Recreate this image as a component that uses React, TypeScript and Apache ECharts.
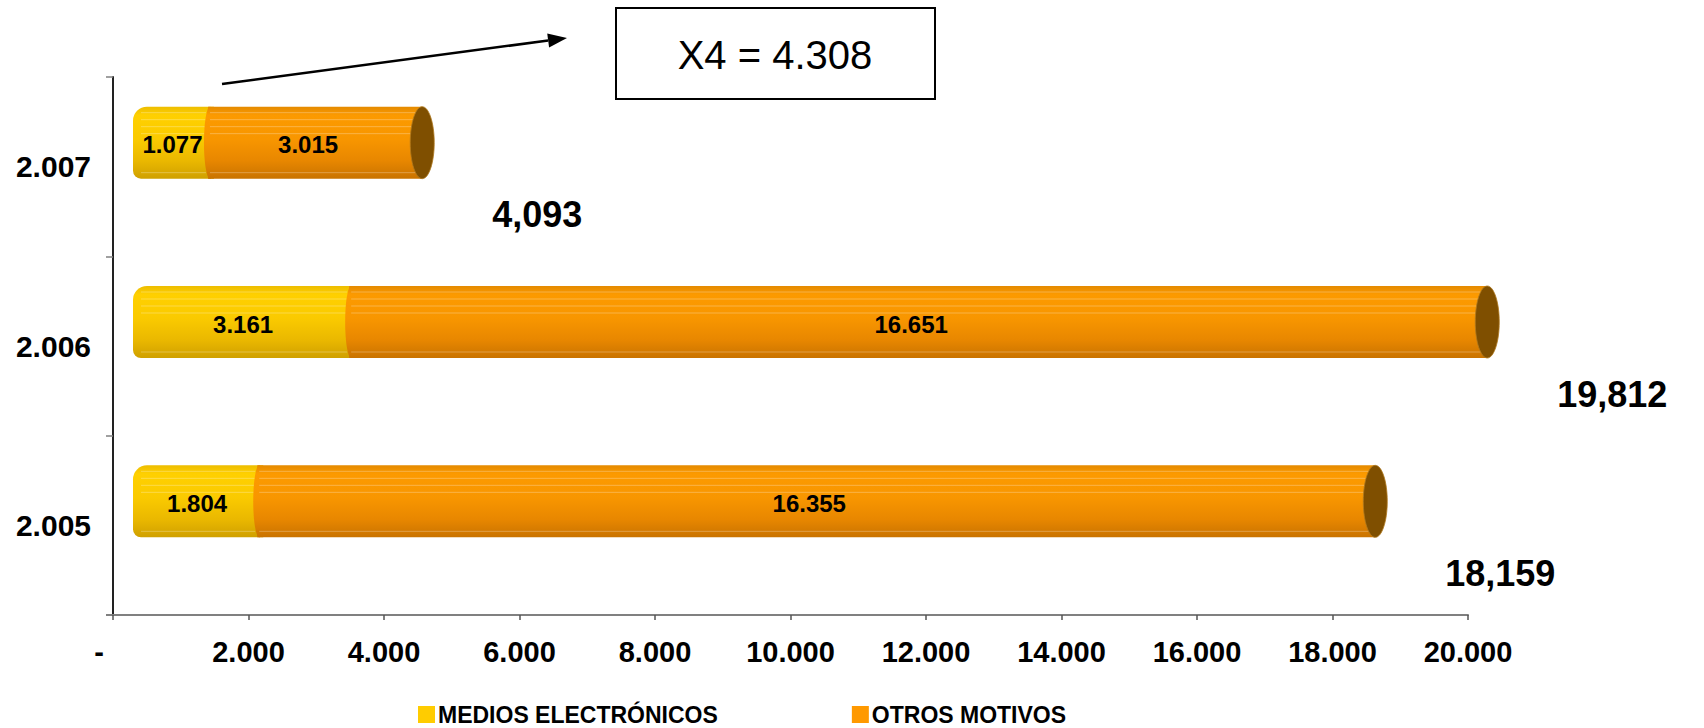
import React, { useEffect, useRef } from 'react';
import * as echarts from 'echarts';

const categories = ['2.005', '2.006', '2.007'];
const mediosElectronicos = [1804, 3161, 1077];
const otrosMotivos = [16355, 16651, 3015];
const totalLabels = ['18,159', '19,812', '4,093'];
const seriesNames = ['MEDIOS ELECTRÓNICOS', 'OTROS MOTIVOS'];
const xMin = 0;
const xMax = 20000;
const xInterval = 2000;
const annotationText = 'X4 = 4.308';

const FONT = '"Liberation Sans", Arial, sans-serif';
const DX = 20;
const DY = -24;
const BAR_H = 72;

function fmt(n: number): string {
  return String(Math.round(n)).replace(/\B(?=(\d{3})+(?!\d))/g, '.');
}

const yellowGrad = new echarts.graphic.LinearGradient(0, 0, 0, 1, [
  { offset: 0, color: '#EDBD00' },
  { offset: 0.12, color: '#FFD000' },
  { offset: 0.45, color: '#FACA00' },
  { offset: 0.75, color: '#EAB800' },
  { offset: 1, color: '#CFA000' },
]);
const orangeGrad = new echarts.graphic.LinearGradient(0, 0, 0, 1, [
  { offset: 0, color: '#E48A00' },
  { offset: 0.12, color: '#FC9A00' },
  { offset: 0.45, color: '#F89600' },
  { offset: 0.75, color: '#E88700' },
  { offset: 1, color: '#C97300' },
]);

function segmentRenderer(kind: number) {
  return (params: any, api: any) => {
    const cat = api.value(0);
    const start = api.value(1);
    const end = api.value(2);
    const val = api.value(3);
    const p0 = api.coord([start, cat]);
    const p1 = api.coord([end, cat]);
    const x0 = p0[0] + DX;
    const x1 = p1[0] + DX;
    const cy = p0[1] + DY;
    const y = cy - BAR_H / 2;
    const children: any[] = [];
    if (kind === 0) {
      children.push({
        type: 'rect',
        shape: { x: x0, y, width: x1 - x0 + 8, height: BAR_H, r: [14, 0, 0, 8] },
        style: { fill: yellowGrad },
      });
    } else {
      children.push({
        type: 'rect',
        shape: { x: x0 + 2, y, width: x1 - x0 + 10, height: BAR_H },
        style: { fill: orangeGrad },
      });
      children.push({
        type: 'ellipse',
        shape: { cx: x0 + 4, cy, rx: 6, ry: BAR_H / 2 },
        style: { fill: orangeGrad },
      });
    }
    const sx0 = kind === 0 ? x0 + 8 : x0 + 4;
    const sx1 = kind === 0 ? x1 : x1 + 10;
    [6, 13, 20, 27, 66].forEach((o) => {
      children.push({
        type: 'line',
        shape: { x1: sx0, y1: y + o, x2: sx1, y2: y + o },
        style: { stroke: 'rgba(255,255,255,0.28)', lineWidth: 1 },
      });
    });
    if (kind === 1) {
      children.push({
        type: 'ellipse',
        shape: { cx: x1 + 12, cy, rx: 12, ry: BAR_H / 2 },
        style: { fill: '#7F4F00', stroke: '#B07A20', lineWidth: 0.8 },
      });
    }
    children.push({
      type: 'text',
      style: {
        text: fmt(val),
        x: (x0 + x1) / 2 + (kind === 0 ? 3 : 0),
        y: cy + 2,
        align: 'center',
        verticalAlign: 'middle',
        fontSize: 24,
        fontWeight: 'bold',
        fontFamily: FONT,
        fill: '#000',
      },
    });
    return { type: 'group', children };
  };
}

function totalRenderer(params: any, api: any) {
  const idx = params.dataIndex;
  const p = api.coord([api.value(1), api.value(0)]);
  return {
    type: 'text',
    style: {
      text: totalLabels[idx],
      x: p[0] + DX + 82,
      y: p[1] + 48,
      align: 'left',
      verticalAlign: 'middle',
      fontSize: 36,
      fontWeight: 'bold',
      fontFamily: FONT,
      fill: '#000',
    },
  };
}

export default function App() {
  const ref = useRef<HTMLDivElement>(null);
  useEffect(() => {
    if (!ref.current) return;
    const chart = echarts.init(ref.current, null, { renderer: 'svg' });
    const yellowData = categories.map((c, i) => [i, 0, mediosElectronicos[i], mediosElectronicos[i]]);
    const orangeData = categories.map((c, i) => [
      i,
      mediosElectronicos[i],
      mediosElectronicos[i] + otrosMotivos[i],
      otrosMotivos[i],
    ]);
    const totalData = categories.map((c, i) => [i, mediosElectronicos[i] + otrosMotivos[i]]);

    const ax0 = 222, ay0 = 84, ax1 = 567, ay1 = 38;
    const len = Math.hypot(ax1 - ax0, ay1 - ay0);
    const dx = (ax1 - ax0) / len, dy = (ay1 - ay0) / len;
    const hl = 19, hw = 7;
    const bx = ax1 - dx * hl, by = ay1 - dy * hl;

    chart.setOption({
      animation: false,
      backgroundColor: '#fff',
      grid: { left: 113, right: 236, top: 77, bottom: 113, containLabel: false },
      xAxis: {
        type: 'value',
        min: xMin,
        max: xMax,
        interval: xInterval,
        splitLine: { show: false },
        axisLine: { show: true, lineStyle: { color: '#808080', width: 2 } },
        axisTick: { show: true, length: 5, lineStyle: { color: '#555', width: 1.5 } },
        axisLabel: {
          margin: 22,
          fontSize: 29,
          fontWeight: 'bold',
          fontFamily: FONT,
          color: '#000',
          formatter: (v: number) => (v === 0 ? '{z|-}' : fmt(v)),
          rich: {
            z: { fontSize: 29, fontWeight: 'bold', fontFamily: FONT, color: '#000', padding: [0, 28, 0, 0] },
          },
        },
      },
      yAxis: {
        type: 'category',
        data: categories,
        axisLine: { show: true, lineStyle: { color: '#222', width: 2 } },
        axisTick: { show: true, length: 7, lineStyle: { color: '#808080', width: 1.5 } },
        axisLabel: {
          margin: 22,
          fontSize: 30,
          fontWeight: 'bold',
          fontFamily: FONT,
          color: '#000',
        },
      },
      legend: {
        left: 418,
        top: 703,
        padding: 0,
        itemWidth: 17,
        itemHeight: 17,
        itemGap: 134,
        icon: 'rect',
        selectedMode: false,
        textStyle: { fontSize: 23, fontWeight: 'bold', fontFamily: FONT, color: '#000', padding: [2, 0, 0, -2] },
        data: seriesNames,
      },
      series: [
        {
          name: seriesNames[0],
          type: 'custom',
          renderItem: segmentRenderer(0),
          encode: { x: [1, 2], y: 0 },
          itemStyle: { color: '#FFCC00' },
          data: yellowData,
          silent: true,
          z: 2,
        },
        {
          name: seriesNames[1],
          type: 'custom',
          renderItem: segmentRenderer(1),
          encode: { x: [1, 2], y: 0 },
          itemStyle: { color: '#FF9900' },
          data: orangeData,
          silent: true,
          z: 3,
        },
        {
          name: 'total',
          type: 'custom',
          renderItem: totalRenderer,
          encode: { x: 1, y: 0 },
          data: totalData,
          silent: true,
          z: 4,
        },
      ],
      graphic: [
        {
          type: 'line',
          shape: { x1: 106, y1: 615, x2: 113, y2: 615 },
          style: { stroke: '#808080', lineWidth: 2 },
        },
        {
          type: 'line',
          shape: { x1: ax0, y1: ay0, x2: bx, y2: by },
          style: { stroke: '#000', lineWidth: 2.5 },
        },
        {
          type: 'polygon',
          shape: {
            points: [
              [ax1, ay1],
              [bx - dy * hw, by + dx * hw],
              [bx + dy * hw, by - dx * hw],
            ],
          },
          style: { fill: '#000' },
        },
        {
          type: 'rect',
          shape: { x: 616, y: 8, width: 319, height: 91 },
          style: { fill: '#fff', stroke: '#000', lineWidth: 2 },
        },
        {
          type: 'text',
          style: {
            text: annotationText,
            x: 775,
            y: 55,
            align: 'center',
            verticalAlign: 'middle',
            fontSize: 40,
            fontFamily: FONT,
            fill: '#000',
          },
        },
      ],
    });
    return () => chart.dispose();
  }, []);
  return (
    <div
      ref={ref}
      style={{ position: 'fixed', left: 0, top: 0, width: 1704, height: 728, background: '#fff' }}
    />
  );
}
